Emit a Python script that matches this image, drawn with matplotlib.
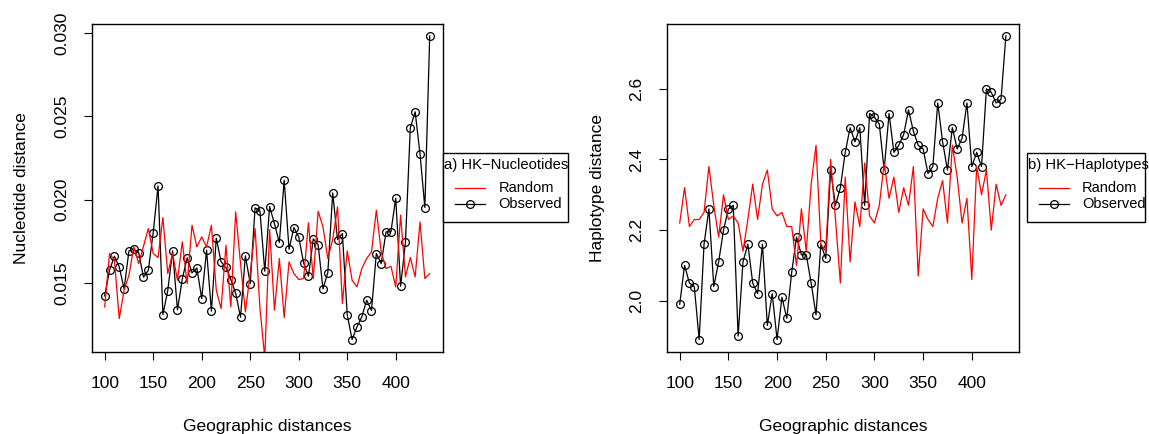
import matplotlib.pyplot as plt
from matplotlib.lines import Line2D
from matplotlib.patches import Rectangle

plt.rcParams['font.family'] = ['Liberation Sans', 'DejaVu Sans']

# ---- data ----
distances = list(range(100, 440, 5))

nuc_observed = [0.01422, 0.01576, 0.01660, 0.01596, 0.01464, 0.01692, 0.01702, 0.01682, 0.01534, 0.01576,
                0.01802, 0.02082, 0.01310, 0.01454, 0.01692, 0.01338, 0.01524, 0.01650, 0.01560, 0.01590,
                0.01406, 0.01696, 0.01330, 0.01768, 0.01626, 0.01594, 0.01520, 0.01438, 0.01294, 0.01662,
                0.01496, 0.01950, 0.01932, 0.01570, 0.01958, 0.01854, 0.01742, 0.02116, 0.01702, 0.01832,
                0.01776, 0.01620, 0.01540, 0.01764, 0.01728, 0.01464, 0.01562, 0.02040, 0.01760, 0.01796,
                0.01308, 0.01160, 0.01236, 0.01296, 0.01396, 0.01334, 0.01676, 0.01616, 0.01806, 0.01806,
                0.02008, 0.01480, 0.01744, 0.02430, 0.02526, 0.02274, 0.01952, 0.02982]
nuc_random = [0.01356, 0.01676, 0.01636, 0.01286, 0.01456, 0.01546, 0.01716, 0.01616, 0.01720, 0.01826,
              0.01676, 0.01652, 0.01892, 0.01556, 0.01676, 0.01516, 0.01746, 0.01496, 0.01846, 0.01716,
              0.01776, 0.01716, 0.01846, 0.01456, 0.01346, 0.01726, 0.01356, 0.01926, 0.01616, 0.01326,
              0.01556, 0.01826, 0.01350, 0.01050, 0.01820, 0.01336, 0.01646, 0.01292, 0.01626, 0.01556,
              0.01520, 0.01526, 0.01860, 0.01526, 0.01930, 0.01836, 0.01646, 0.01760, 0.01956, 0.01376,
              0.01692, 0.01516, 0.01476, 0.01586, 0.01646, 0.01686, 0.01936, 0.01686, 0.01586, 0.01600,
              0.01476, 0.01906, 0.01536, 0.01652, 0.01536, 0.01866, 0.01526, 0.01556]

hap_observed = [1.99, 2.10, 2.05, 2.04, 1.89, 2.16, 2.26, 2.04, 2.11, 2.20, 2.26,
                2.27, 1.90, 2.11, 2.16, 2.05, 2.02, 2.16, 1.93, 2.02, 1.89,
                2.01, 1.95, 2.08, 2.18, 2.13, 2.13, 2.05, 1.96, 2.16, 2.12,
                2.37, 2.27, 2.32, 2.42, 2.49, 2.45, 2.49, 2.27, 2.53, 2.52,
                2.50, 2.37, 2.53, 2.42, 2.44, 2.47, 2.54, 2.48, 2.44, 2.43,
                2.36, 2.38, 2.56, 2.45, 2.37, 2.49, 2.43, 2.46, 2.56, 2.38,
                2.42, 2.38, 2.60, 2.59, 2.56, 2.57, 2.75]
hap_random = [2.22, 2.32, 2.21, 2.23, 2.23, 2.25, 2.38, 2.27, 2.18, 2.30, 2.23,
              2.24, 2.22, 2.14, 2.23, 2.33, 2.23, 2.33, 2.37, 2.26, 2.24,
              2.25, 2.21, 2.21, 2.10, 2.26, 2.14, 2.33, 2.44, 2.16, 2.14,
              2.40, 2.23, 2.05, 2.35, 2.11, 2.28, 2.21, 2.39, 2.24, 2.22,
              2.27, 2.39, 2.29, 2.35, 2.25, 2.32, 2.27, 2.38, 2.07, 2.26,
              2.23, 2.21, 2.29, 2.34, 2.22, 2.44, 2.35, 2.22, 2.29, 2.06,
              2.38, 2.30, 2.37, 2.20, 2.33, 2.27, 2.30]

nuc_yticks = [0.015, 0.020, 0.025, 0.030]
hap_yticks = [2.0, 2.2, 2.4, 2.6]
xticks = [100, 150, 200, 250, 300, 350, 400]

W, H = 1149, 434


def r_limits(values):
    # R-style 4% padding around the observed range
    lo, hi = min(values), max(values)
    pad = (hi - lo) * 0.04
    return lo - pad, hi + pad


def fx(px):
    return px / W


def fy(py):
    return 1 - py / H


def draw_legend(left, right, title):
    # R-like legend box: title hangs on the left edge, two entries below
    top, bottom = 153.3, 221.5
    fig.add_artist(Rectangle((fx(left), fy(bottom)), fx(right) - fx(left), fy(top) - fy(bottom),
                             transform=fig.transFigure, facecolor='white', edgecolor='black',
                             linewidth=1.0, zorder=5))
    fig.text(fx(left + 0.5), fy(165.5), title, fontsize=10.6, ha='left', va='center', zorder=6)
    x0, x1 = left + 12, left + 42
    tx = left + 55
    fig.add_artist(Line2D([fx(x0), fx(x1)], [fy(188.3)] * 2, transform=fig.transFigure,
                          color='red', linewidth=0.9, zorder=6))
    fig.text(fx(tx), fy(188.3), 'Random', fontsize=10.5, ha='left', va='center', zorder=6)
    fig.add_artist(Line2D([fx(x0), fx(x1)], [fy(204.3)] * 2, transform=fig.transFigure,
                          color='black', linewidth=0.9, zorder=6))
    fig.add_artist(Line2D([fx((x0 + x1) / 2)], [fy(204.3)], transform=fig.transFigure,
                          linestyle='none', marker='o', markersize=5.6, markerfacecolor='none',
                          markeredgecolor='black', markeredgewidth=0.9, zorder=6))
    fig.text(fx(tx), fy(204.3), 'Observed', fontsize=10.5, ha='left', va='center', zorder=6)


fig = plt.figure(figsize=(W / 100, H / 100), dpi=100)
ax1 = fig.add_axes([0.0798, 0.1896, 0.3055, 0.7558])
ax2 = fig.add_axes([0.5802, 0.1896, 0.3066, 0.7558])

panels = [
    (ax1, nuc_observed, nuc_random, nuc_yticks, ['0.015', '0.020', '0.025', '0.030'],
     'Nucleotide distance', -0.180),
    (ax2, hap_observed, hap_random, hap_yticks, ['2.0', '2.2', '2.4', '2.6'],
     'Haplotype distance', -0.176),
]

for ax, obs, rnd, yt, ytl, ylab, ylab_x in panels:
    ax.plot(distances, obs, color='black', linewidth=0.9, marker='o', markersize=5.6,
            markerfacecolor='none', markeredgecolor='black', markeredgewidth=0.9, zorder=2)
    ax.plot(distances, rnd, color='red', linewidth=0.9, zorder=3)
    ax.set_xlim(*r_limits(distances))
    ax.set_ylim(*r_limits(obs))
    ax.set_xticks(xticks)
    ax.set_yticks(yt)
    ax.set_yticklabels(ytl, rotation=90, va='center')
    ax.tick_params(direction='out', length=6, width=0.8, labelsize=12.5, colors='black')
    ax.tick_params(axis='x', pad=11.5)
    ax.tick_params(axis='y', pad=10)
    for sp in ax.spines.values():
        sp.set_linewidth(1.0)
    ax.set_xlabel('Geographic distances', fontsize=12.5)
    ax.xaxis.set_label_coords(0.5, -0.205)
    ax.set_ylabel(ylab, fontsize=12.5)
    ax.yaxis.set_label_coords(ylab_x, 0.5)

draw_legend(443.3, 568.3, 'a) HK\u2212Nucleotides')
draw_legend(1027.0, 1145.0, 'b) HK\u2212Haplotypes')

fig.savefig('out.png', dpi=100)
